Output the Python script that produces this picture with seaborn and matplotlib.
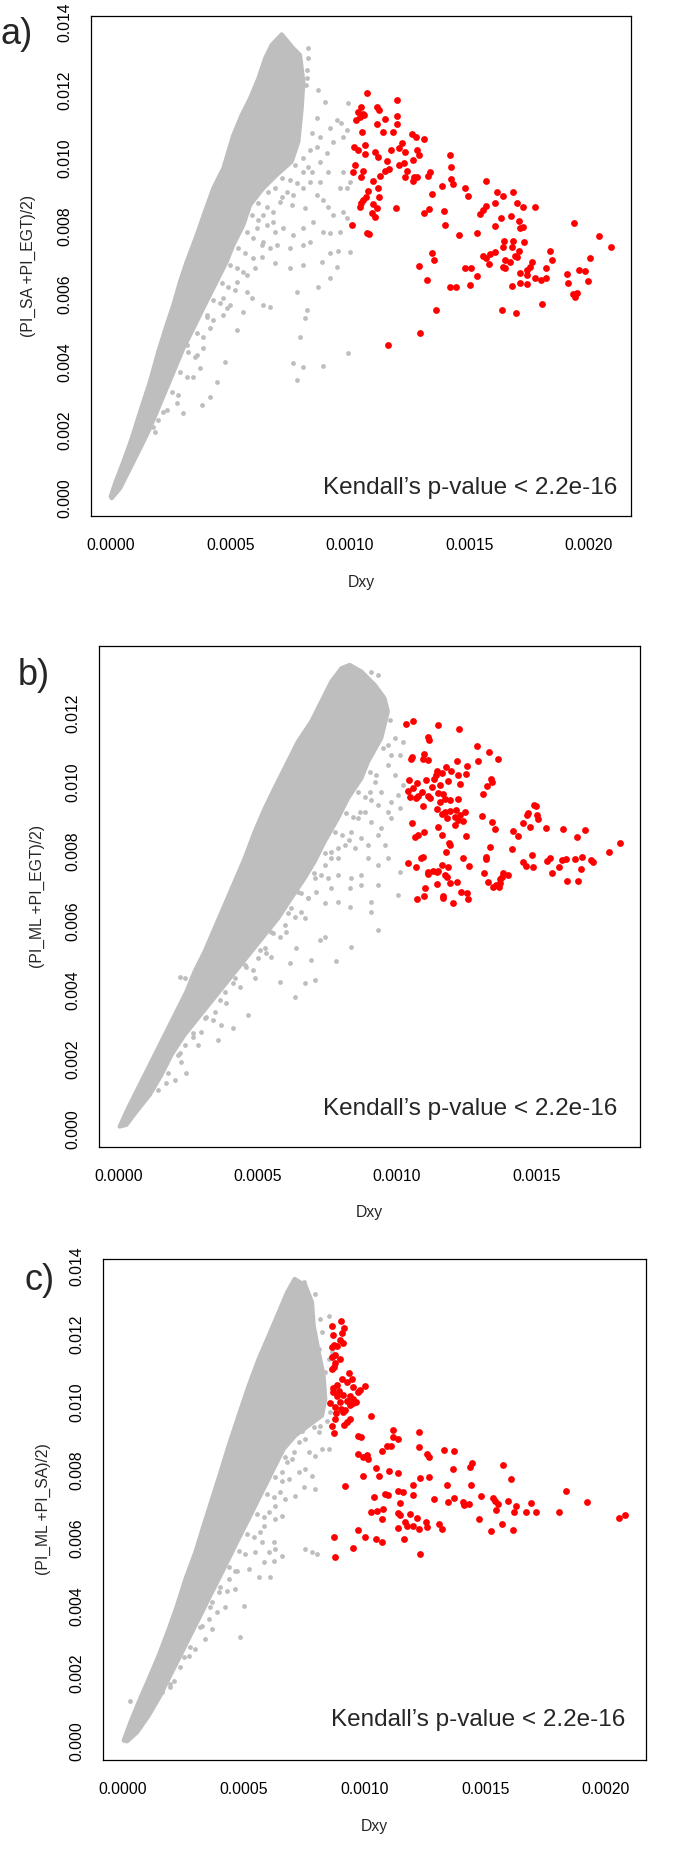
import matplotlib
matplotlib.use("Agg")
import matplotlib.pyplot as plt
import pandas as pd
import seaborn as sns

GRIS = "#BEBEBE"
ROJO = "#FF0000"

# Marcas de los ejes
xticks_ac = [0.0, 0.0005, 0.0010, 0.0015, 0.0020]
xticks_b = [0.0, 0.0005, 0.0010, 0.0015]
yticks_ac = [0.000, 0.002, 0.004, 0.006, 0.008, 0.010, 0.012, 0.014]
yticks_b = [0.000, 0.002, 0.004, 0.006, 0.008, 0.010, 0.012]

etiquetas_y = ["(PI_SA +PI_EGT)/2)", "(PI_ML +PI_EGT)/2)", "(PI_ML +PI_SA)/2)"]
paneles = ["a)", "b)", "c)"]
texto_kendall = "Kendall\u2019s p-value < 2.2e-16"

# ---- panel a: nube gris densa (contorno), puntos grises sueltos, puntos rojos ----
nucleo_a = [
    (0.000e-3, 0.050e-3), (0.018e-3, 0.437e-3), (0.053e-3, 1.075e-3), (0.088e-3, 1.761e-3),
    (0.123e-3, 2.546e-3), (0.164e-3, 3.429e-3), (0.199e-3, 4.312e-3), (0.234e-3, 5.097e-3),
    (0.262e-3, 5.685e-3), (0.290e-3, 6.372e-3), (0.318e-3, 6.961e-3), (0.360e-3, 7.745e-3),
    (0.394e-3, 8.432e-3), (0.429e-3, 9.119e-3), (0.471e-3, 9.707e-3), (0.513e-3, 10.688e-3),
    (0.548e-3, 11.277e-3), (0.583e-3, 11.768e-3), (0.618e-3, 12.356e-3), (0.646e-3, 12.945e-3),
    (0.673e-3, 13.337e-3), (0.715e-3, 13.651e-3), (0.764e-3, 13.239e-3), (0.792e-3, 13.043e-3),
    (0.806e-3, 12.258e-3), (0.799e-3, 11.473e-3), (0.785e-3, 10.492e-3), (0.757e-3, 9.904e-3),
    (0.694e-3, 9.511e-3), (0.638e-3, 9.119e-3), (0.583e-3, 8.628e-3), (0.555e-3, 8.040e-3),
    (0.513e-3, 7.451e-3), (0.485e-3, 6.961e-3), (0.450e-3, 6.470e-3), (0.415e-3, 5.980e-3),
    (0.387e-3, 5.587e-3), (0.346e-3, 4.999e-3), (0.304e-3, 4.410e-3), (0.269e-3, 3.821e-3),
    (0.234e-3, 3.233e-3), (0.199e-3, 2.644e-3), (0.164e-3, 2.056e-3), (0.123e-3, 1.467e-3),
    (0.081e-3, 0.878e-3), (0.039e-3, 0.290e-3), (0.004e-3, 0.000e-3),
]

# puntos grises junto al borde derecho de la nube
franja_a = [
    (0.771e-3, 9.806e-3), (0.806e-3, 9.609e-3), (0.841e-3, 9.609e-3), (0.715e-3, 9.413e-3), (0.750e-3, 9.364e-3),
    (0.778e-3, 9.266e-3), (0.659e-3, 9.021e-3), (0.687e-3, 9.119e-3), (0.715e-3, 8.874e-3), (0.618e-3, 8.677e-3),
    (0.652e-3, 8.579e-3), (0.680e-3, 8.432e-3), (0.590e-3, 8.334e-3), (0.618e-3, 8.187e-3), (0.652e-3, 8.040e-3),
    (0.687e-3, 7.844e-3), (0.569e-3, 7.844e-3), (0.597e-3, 7.647e-3), (0.632e-3, 7.451e-3), (0.666e-3, 7.353e-3),
    (0.534e-3, 7.353e-3), (0.562e-3, 7.206e-3), (0.597e-3, 7.059e-3), (0.499e-3, 6.863e-3), (0.527e-3, 6.764e-3),
    (0.555e-3, 6.666e-3), (0.464e-3, 6.323e-3), (0.492e-3, 6.225e-3), (0.520e-3, 6.127e-3), (0.429e-3, 5.832e-3),
    (0.457e-3, 5.734e-3), (0.485e-3, 5.587e-3), (0.401e-3, 5.342e-3), (0.429e-3, 5.244e-3), (0.360e-3, 4.851e-3),
    (0.387e-3, 4.753e-3), (0.325e-3, 4.312e-3), (0.353e-3, 4.165e-3), (0.290e-3, 3.723e-3), (0.318e-3, 3.576e-3),
    (0.255e-3, 3.135e-3), (0.283e-3, 3.037e-3), (0.220e-3, 2.546e-3), (0.185e-3, 1.958e-3),
]

grises_a = [
    (0.827e-3, 13.239e-3), (0.827e-3, 12.945e-3), (0.820e-3, 12.601e-3), (0.820e-3, 12.356e-3), (0.817e-3, 12.160e-3),
    (0.869e-3, 12.013e-3), (0.896e-3, 11.669e-3), (0.862e-3, 11.179e-3), (0.917e-3, 10.885e-3), (0.945e-3, 11.130e-3),
    (0.962e-3, 11.032e-3), (0.994e-3, 11.620e-3), (0.987e-3, 10.836e-3), (0.841e-3, 10.737e-3), (0.875e-3, 10.639e-3),
    (0.862e-3, 10.345e-3), (0.834e-3, 10.247e-3), (0.903e-3, 10.149e-3), (0.931e-3, 10.492e-3), (0.973e-3, 10.639e-3),
    (0.806e-3, 10.002e-3), (0.827e-3, 9.757e-3), (0.875e-3, 9.904e-3), (0.910e-3, 9.609e-3), (0.973e-3, 9.609e-3),
    (0.987e-3, 9.119e-3), (1.001e-3, 9.315e-3), (0.959e-3, 9.119e-3), (0.875e-3, 9.315e-3), (0.834e-3, 9.315e-3),
    (0.806e-3, 9.119e-3), (0.764e-3, 8.923e-3), (0.736e-3, 9.021e-3), (0.708e-3, 8.726e-3), (0.757e-3, 8.628e-3),
    (0.813e-3, 8.530e-3), (0.862e-3, 8.923e-3), (0.890e-3, 8.776e-3), (0.910e-3, 8.579e-3), (0.931e-3, 8.334e-3),
    (0.973e-3, 8.432e-3), (0.987e-3, 8.236e-3), (0.959e-3, 7.844e-3), (0.917e-3, 7.795e-3), (0.890e-3, 7.844e-3),
    (0.848e-3, 8.138e-3), (0.806e-3, 7.942e-3), (0.764e-3, 7.745e-3), (0.722e-3, 7.942e-3), (0.680e-3, 8.138e-3),
    (0.638e-3, 8.334e-3), (0.611e-3, 7.942e-3), (0.638e-3, 7.549e-3), (0.694e-3, 7.451e-3), (0.750e-3, 7.353e-3),
    (0.806e-3, 7.451e-3), (0.834e-3, 7.549e-3), (0.917e-3, 7.206e-3), (0.952e-3, 7.275e-3), (1.001e-3, 7.235e-3),
    (0.883e-3, 6.961e-3), (0.945e-3, 6.813e-3), (0.917e-3, 6.470e-3), (0.869e-3, 6.225e-3), (0.806e-3, 6.863e-3),
    (0.750e-3, 6.764e-3), (0.687e-3, 6.912e-3), (0.631e-3, 7.108e-3), (0.604e-3, 6.764e-3), (0.569e-3, 6.568e-3),
    (0.527e-3, 6.372e-3), (0.569e-3, 6.078e-3), (0.590e-3, 5.882e-3), (0.638e-3, 5.685e-3), (0.666e-3, 5.636e-3),
    (0.778e-3, 6.078e-3), (0.820e-3, 5.538e-3), (0.813e-3, 5.293e-3), (0.792e-3, 4.753e-3), (0.764e-3, 3.969e-3),
    (0.806e-3, 3.871e-3), (0.890e-3, 3.900e-3), (0.994e-3, 4.263e-3), (0.778e-3, 3.478e-3), (0.555e-3, 5.489e-3),
    (0.527e-3, 4.950e-3), (0.478e-3, 4.018e-3), (0.443e-3, 3.429e-3), (0.415e-3, 2.988e-3), (0.381e-3, 2.742e-3),
    (0.346e-3, 3.576e-3), (0.360e-3, 4.214e-3), (0.318e-3, 4.508e-3), (0.387e-3, 4.410e-3), (0.415e-3, 4.999e-3),
    (0.471e-3, 5.391e-3), (0.499e-3, 5.685e-3), (0.304e-3, 2.497e-3), (0.276e-3, 2.792e-3), (0.234e-3, 2.595e-3),
    (0.199e-3, 2.301e-3), (0.178e-3, 2.105e-3), (0.471e-3, 5.882e-3), (0.401e-3, 5.391e-3), (0.374e-3, 3.821e-3),
]

rojos_a = [
    (1.071e-3, 11.915e-3), (1.199e-3, 11.719e-3), (1.045e-3, 11.523e-3), (1.036e-3, 11.375e-3), (1.054e-3, 11.307e-3),
    (1.026e-3, 11.130e-3), (1.043e-3, 11.228e-3), (1.059e-3, 11.277e-3), (1.112e-3, 11.503e-3), (1.124e-3, 11.424e-3),
    (1.147e-3, 11.150e-3), (1.196e-3, 11.248e-3), (1.199e-3, 11.012e-3), (1.112e-3, 11.012e-3), (1.140e-3, 10.787e-3),
    (1.182e-3, 10.767e-3), (1.050e-3, 10.787e-3), (1.259e-3, 10.718e-3), (1.277e-3, 10.640e-3), (1.310e-3, 10.561e-3),
    (1.217e-3, 10.443e-3), (1.207e-3, 10.316e-3), (1.231e-3, 10.198e-3), (1.171e-3, 10.247e-3), (1.018e-3, 10.345e-3),
    (1.036e-3, 10.247e-3), (1.064e-3, 10.394e-3), (1.064e-3, 10.130e-3), (1.105e-3, 10.198e-3), (1.119e-3, 10.031e-3),
    (1.282e-3, 10.247e-3), (1.291e-3, 10.100e-3), (1.263e-3, 9.953e-3), (1.157e-3, 9.923e-3), (1.165e-3, 9.688e-3),
    (1.147e-3, 9.639e-3), (1.207e-3, 9.816e-3), (1.228e-3, 9.874e-3), (1.022e-3, 9.806e-3), (1.054e-3, 9.629e-3),
    (1.015e-3, 9.610e-3), (1.045e-3, 9.443e-3), (1.126e-3, 9.492e-3), (1.231e-3, 9.443e-3), (1.241e-3, 9.639e-3),
    (1.268e-3, 9.462e-3), (1.282e-3, 9.443e-3), (1.266e-3, 9.345e-3), (1.328e-3, 9.482e-3), (1.335e-3, 9.610e-3),
    (1.419e-3, 10.100e-3), (1.423e-3, 9.737e-3), (1.422e-3, 9.384e-3), (1.433e-3, 9.237e-3), (1.388e-3, 9.188e-3),
    (1.482e-3, 9.139e-3), (1.496e-3, 8.893e-3), (1.572e-3, 9.335e-3), (1.614e-3, 9.021e-3), (1.642e-3, 8.893e-3),
    (1.681e-3, 9.001e-3), (1.607e-3, 8.678e-3), (1.698e-3, 8.697e-3), (1.723e-3, 8.560e-3), (1.774e-3, 8.560e-3),
    (1.096e-3, 9.335e-3), (1.117e-3, 9.139e-3), (1.124e-3, 8.874e-3), (1.078e-3, 9.050e-3), (1.045e-3, 8.678e-3),
    (1.057e-3, 8.776e-3), (1.068e-3, 8.854e-3), (1.043e-3, 8.560e-3), (1.098e-3, 8.658e-3), (1.112e-3, 8.530e-3),
    (1.091e-3, 8.383e-3), (1.105e-3, 8.266e-3), (1.192e-3, 8.550e-3), (1.344e-3, 8.952e-3), (1.333e-3, 8.501e-3),
    (1.310e-3, 8.383e-3), (1.394e-3, 8.452e-3), (1.398e-3, 8.040e-3), (1.458e-3, 7.746e-3), (1.531e-3, 7.814e-3),
    (1.568e-3, 8.599e-3), (1.558e-3, 8.481e-3), (1.547e-3, 8.364e-3), (1.631e-3, 8.236e-3), (1.673e-3, 8.315e-3),
    (1.607e-3, 8.020e-3), (1.709e-3, 8.158e-3), (1.723e-3, 7.991e-3), (1.712e-3, 7.942e-3), (1.940e-3, 8.109e-3),
    (2.041e-3, 7.726e-3), (2.095e-3, 7.383e-3), (1.011e-3, 8.040e-3), (1.073e-3, 7.795e-3), (1.082e-3, 7.775e-3),
    (1.645e-3, 7.569e-3), (1.681e-3, 7.579e-3), (1.729e-3, 7.549e-3), (1.642e-3, 7.383e-3), (1.677e-3, 7.383e-3),
    (1.709e-3, 7.275e-3), (1.691e-3, 7.128e-3), (1.698e-3, 7.108e-3), (1.607e-3, 7.236e-3), (1.586e-3, 7.177e-3),
    (1.558e-3, 7.137e-3), (1.572e-3, 7.059e-3), (1.584e-3, 6.892e-3), (1.649e-3, 7.010e-3), (1.670e-3, 6.961e-3),
    (1.642e-3, 6.814e-3), (1.649e-3, 6.765e-3), (1.837e-3, 7.275e-3), (1.846e-3, 7.010e-3), (2.005e-3, 7.059e-3),
    (1.761e-3, 6.941e-3), (1.754e-3, 6.814e-3), (1.742e-3, 6.716e-3), (1.823e-3, 6.765e-3), (1.712e-3, 6.618e-3),
    (1.740e-3, 6.569e-3), (1.777e-3, 6.470e-3), (1.802e-3, 6.421e-3), (1.823e-3, 6.470e-3), (1.712e-3, 6.343e-3),
    (1.740e-3, 6.294e-3), (1.677e-3, 6.255e-3), (1.907e-3, 6.588e-3), (1.914e-3, 6.323e-3), (1.960e-3, 6.716e-3),
    (1.984e-3, 6.686e-3), (1.998e-3, 6.382e-3), (1.935e-3, 6.009e-3), (1.949e-3, 6.029e-3), (1.942e-3, 5.911e-3),
    (1.805e-3, 5.705e-3), (1.639e-3, 5.538e-3), (1.695e-3, 5.460e-3), (1.482e-3, 6.784e-3), (1.507e-3, 6.765e-3),
    (1.531e-3, 6.539e-3), (1.505e-3, 6.274e-3), (1.419e-3, 6.225e-3), (1.444e-3, 6.206e-3), (1.291e-3, 6.833e-3),
    (1.324e-3, 6.421e-3), (1.344e-3, 7.206e-3), (1.354e-3, 7.010e-3), (1.360e-3, 5.538e-3), (1.294e-3, 4.871e-3),
    (1.161e-3, 4.498e-3),
]

# ---- panel b ----
nucleo_b = [
    (0.004e-3, 0.065e-3), (0.034e-3, 0.594e-3), (0.070e-3, 1.172e-3), (0.112e-3, 1.846e-3),
    (0.154e-3, 2.520e-3), (0.202e-3, 3.289e-3), (0.244e-3, 3.963e-3), (0.273e-3, 4.540e-3),
    (0.309e-3, 5.118e-3), (0.345e-3, 5.792e-3), (0.381e-3, 6.465e-3), (0.417e-3, 7.139e-3),
    (0.453e-3, 7.813e-3), (0.489e-3, 8.583e-3), (0.525e-3, 9.256e-3), (0.560e-3, 9.834e-3),
    (0.596e-3, 10.411e-3), (0.644e-3, 11.181e-3), (0.692e-3, 11.759e-3), (0.740e-3, 12.528e-3),
    (0.764e-3, 12.913e-3), (0.800e-3, 13.298e-3), (0.830e-3, 13.395e-3), (0.872e-3, 13.202e-3),
    (0.920e-3, 12.817e-3), (0.955e-3, 12.432e-3), (0.967e-3, 12.047e-3), (0.943e-3, 11.277e-3),
    (0.896e-3, 10.604e-3), (0.872e-3, 10.122e-3), (0.824e-3, 9.545e-3), (0.788e-3, 8.968e-3),
    (0.740e-3, 8.294e-3), (0.704e-3, 7.716e-3), (0.668e-3, 7.235e-3), (0.620e-3, 6.658e-3),
    (0.573e-3, 6.080e-3), (0.525e-3, 5.599e-3), (0.477e-3, 5.118e-3), (0.429e-3, 4.637e-3),
    (0.381e-3, 4.155e-3), (0.333e-3, 3.674e-3), (0.285e-3, 3.193e-3), (0.237e-3, 2.712e-3),
    (0.190e-3, 2.134e-3), (0.154e-3, 1.557e-3), (0.112e-3, 0.980e-3), (0.064e-3, 0.498e-3),
    (0.028e-3, 0.113e-3),
]

franja_b = [
    (0.949e-3, 10.989e-3), (0.967e-3, 11.085e-3), (0.902e-3, 10.315e-3), (0.925e-3, 10.219e-3), (0.860e-3, 9.737e-3),
    (0.884e-3, 9.593e-3), (0.908e-3, 9.497e-3), (0.818e-3, 9.112e-3), (0.842e-3, 9.016e-3), (0.866e-3, 9.160e-3),
    (0.778e-3, 8.583e-3), (0.802e-3, 8.486e-3), (0.826e-3, 8.342e-3), (0.740e-3, 7.957e-3), (0.764e-3, 7.813e-3),
    (0.788e-3, 8.101e-3), (0.702e-3, 7.380e-3), (0.726e-3, 7.331e-3), (0.752e-3, 7.235e-3), (0.656e-3, 6.802e-3),
    (0.680e-3, 6.658e-3), (0.710e-3, 6.850e-3), (0.608e-3, 6.225e-3), (0.632e-3, 6.128e-3), (0.656e-3, 6.273e-3),
    (0.555e-3, 5.647e-3), (0.579e-3, 5.551e-3), (0.602e-3, 5.695e-3), (0.507e-3, 5.166e-3), (0.531e-3, 5.070e-3),
    (0.459e-3, 4.685e-3), (0.483e-3, 4.589e-3), (0.411e-3, 4.204e-3), (0.435e-3, 4.107e-3), (0.363e-3, 3.722e-3),
    (0.387e-3, 3.626e-3), (0.315e-3, 3.241e-3), (0.339e-3, 3.145e-3), (0.267e-3, 2.760e-3), (0.220e-3, 2.183e-3),
    (0.178e-3, 1.605e-3),
]

grises_b = [
    (0.908e-3, 13.202e-3), (0.931e-3, 13.106e-3), (0.973e-3, 11.807e-3), (0.991e-3, 11.277e-3), (1.021e-3, 11.181e-3),
    (1.009e-3, 10.796e-3), (0.979e-3, 10.796e-3), (0.967e-3, 10.507e-3), (0.991e-3, 10.219e-3), (1.021e-3, 9.930e-3),
    (1.003e-3, 9.641e-3), (0.979e-3, 9.449e-3), (0.944e-3, 9.737e-3), (0.919e-3, 10.026e-3), (0.902e-3, 9.737e-3),
    (0.931e-3, 9.352e-3), (0.967e-3, 9.160e-3), (1.009e-3, 9.256e-3), (0.979e-3, 8.967e-3), (0.944e-3, 8.679e-3),
    (0.908e-3, 8.871e-3), (0.884e-3, 9.160e-3), (0.860e-3, 8.967e-3), (0.836e-3, 8.583e-3), (0.872e-3, 8.390e-3),
    (0.896e-3, 8.198e-3), (0.931e-3, 8.486e-3), (0.955e-3, 8.198e-3), (0.848e-3, 8.101e-3), (0.812e-3, 8.198e-3),
    (0.788e-3, 7.813e-3), (0.764e-3, 8.005e-3), (0.740e-3, 7.620e-3), (0.788e-3, 7.331e-3), (0.836e-3, 7.235e-3),
    (0.872e-3, 7.331e-3), (0.896e-3, 7.813e-3), (0.931e-3, 7.620e-3), (0.967e-3, 7.813e-3), (1.009e-3, 7.428e-3),
    (1.003e-3, 6.754e-3), (0.931e-3, 7.043e-3), (0.908e-3, 6.561e-3), (0.872e-3, 7.043e-3), (0.830e-3, 6.947e-3),
    (0.788e-3, 6.561e-3), (0.764e-3, 6.947e-3), (0.704e-3, 7.235e-3), (0.680e-3, 6.658e-3), (0.644e-3, 6.850e-3),
    (0.620e-3, 6.369e-3), (0.668e-3, 6.080e-3), (0.596e-3, 5.888e-3), (0.573e-3, 6.273e-3), (0.549e-3, 5.695e-3),
    (0.525e-3, 5.214e-3), (0.501e-3, 4.926e-3), (0.549e-3, 4.974e-3), (0.614e-3, 4.781e-3), (0.638e-3, 5.214e-3),
    (0.692e-3, 4.877e-3), (0.722e-3, 5.455e-3), (0.740e-3, 5.551e-3), (0.780e-3, 4.849e-3), (0.836e-3, 5.262e-3),
    (0.931e-3, 5.743e-3), (0.908e-3, 6.273e-3), (0.830e-3, 6.417e-3), (0.740e-3, 6.513e-3), (0.704e-3, 4.300e-3),
    (0.668e-3, 4.204e-3), (0.632e-3, 3.819e-3), (0.578e-3, 4.252e-3), (0.465e-3, 3.289e-3), (0.411e-3, 2.905e-3),
    (0.369e-3, 3.001e-3), (0.345e-3, 3.386e-3), (0.309e-3, 3.193e-3), (0.285e-3, 2.423e-3), (0.357e-3, 2.568e-3),
    (0.297e-3, 2.808e-3), (0.267e-3, 2.664e-3), (0.237e-3, 2.423e-3), (0.214e-3, 2.135e-3), (0.226e-3, 1.942e-3),
    (0.244e-3, 1.605e-3), (0.202e-3, 1.413e-3), (0.172e-3, 1.317e-3), (0.142e-3, 1.124e-3), (0.339e-3, 3.867e-3),
    (0.381e-3, 3.963e-3), (0.417e-3, 4.348e-3), (0.453e-3, 4.733e-3), (0.489e-3, 4.348e-3), (0.477e-3, 5.503e-3),
    (0.429e-3, 5.310e-3), (0.220e-3, 4.396e-3), (0.237e-3, 4.348e-3),
]

rojos_b = [
    (1.031e-3, 11.691e-3), (1.058e-3, 11.777e-3), (1.148e-3, 11.671e-3), (1.223e-3, 11.546e-3), (1.112e-3, 11.325e-3),
    (1.116e-3, 11.229e-3), (1.288e-3, 11.065e-3), (1.331e-3, 10.882e-3), (1.363e-3, 10.680e-3), (1.289e-3, 10.622e-3),
    (1.052e-3, 10.728e-3), (1.050e-3, 10.670e-3), (1.098e-3, 10.815e-3), (1.094e-3, 10.670e-3), (1.110e-3, 10.651e-3),
    (1.214e-3, 10.632e-3), (1.250e-3, 10.488e-3), (1.246e-3, 10.247e-3), (1.142e-3, 10.343e-3), (1.174e-3, 10.439e-3),
    (1.193e-3, 10.334e-3), (1.160e-3, 10.266e-3), (1.138e-3, 10.218e-3), (1.184e-3, 10.045e-3), (1.220e-3, 10.218e-3),
    (1.226e-3, 9.958e-3), (1.337e-3, 10.093e-3), (1.342e-3, 10.016e-3), (1.322e-3, 9.910e-3), (1.307e-3, 9.670e-3),
    (1.043e-3, 10.074e-3), (1.070e-3, 9.997e-3), (1.058e-3, 9.833e-3), (1.103e-3, 10.074e-3), (1.134e-3, 10.093e-3),
    (1.154e-3, 9.929e-3), (1.127e-3, 9.881e-3), (1.112e-3, 9.612e-3), (1.118e-3, 9.544e-3), (1.038e-3, 9.756e-3),
    (1.046e-3, 9.592e-3), (1.067e-3, 9.544e-3), (1.076e-3, 9.612e-3), (1.091e-3, 9.737e-3), (1.092e-3, 9.323e-3),
    (1.148e-3, 9.689e-3), (1.166e-3, 9.670e-3), (1.154e-3, 9.448e-3), (1.172e-3, 9.516e-3), (1.190e-3, 9.496e-3),
    (1.217e-3, 9.516e-3), (1.210e-3, 9.208e-3), (1.190e-3, 9.188e-3), (1.172e-3, 9.159e-3), (1.142e-3, 9.227e-3),
    (1.160e-3, 9.092e-3), (1.178e-3, 8.967e-3), (1.208e-3, 9.015e-3), (1.226e-3, 9.063e-3), (1.244e-3, 9.140e-3),
    (1.220e-3, 8.919e-3), (1.238e-3, 8.900e-3), (1.208e-3, 8.774e-3), (1.055e-3, 8.823e-3), (1.074e-3, 8.486e-3),
    (1.064e-3, 8.438e-3), (1.098e-3, 8.563e-3), (1.148e-3, 8.707e-3), (1.162e-3, 8.486e-3), (1.186e-3, 8.264e-3),
    (1.190e-3, 8.197e-3), (1.174e-3, 8.005e-3), (1.249e-3, 8.466e-3), (1.304e-3, 9.034e-3), (1.339e-3, 8.871e-3),
    (1.351e-3, 8.649e-3), (1.416e-3, 8.611e-3), (1.433e-3, 8.457e-3), (1.451e-3, 8.823e-3), (1.465e-3, 9.063e-3),
    (1.471e-3, 9.131e-3), (1.476e-3, 8.707e-3), (1.493e-3, 9.352e-3), (1.497e-3, 9.333e-3), (1.503e-3, 9.063e-3),
    (1.507e-3, 8.948e-3), (1.535e-3, 8.678e-3), (1.597e-3, 8.649e-3), (1.645e-3, 8.438e-3), (1.674e-3, 8.630e-3),
    (1.762e-3, 7.985e-3), (1.800e-3, 8.245e-3), (1.414e-3, 8.082e-3), (1.334e-3, 8.130e-3), (1.038e-3, 7.668e-3),
    (1.067e-3, 7.552e-3), (1.086e-3, 7.831e-3), (1.092e-3, 7.850e-3), (1.112e-3, 7.427e-3), (1.112e-3, 7.360e-3),
    (1.130e-3, 7.456e-3), (1.142e-3, 7.427e-3), (1.160e-3, 7.620e-3), (1.184e-3, 7.552e-3), (1.172e-3, 7.331e-3),
    (1.178e-3, 7.263e-3), (1.148e-3, 7.456e-3), (1.238e-3, 7.812e-3), (1.258e-3, 7.600e-3), (1.318e-3, 7.860e-3),
    (1.318e-3, 7.783e-3), (1.311e-3, 7.379e-3), (1.325e-3, 7.138e-3), (1.343e-3, 6.994e-3), (1.355e-3, 7.042e-3),
    (1.371e-3, 7.110e-3), (1.375e-3, 7.283e-3), (1.381e-3, 7.398e-3), (1.397e-3, 7.331e-3), (1.369e-3, 7.206e-3),
    (1.366e-3, 6.994e-3), (1.453e-3, 7.697e-3), (1.462e-3, 7.600e-3), (1.485e-3, 7.908e-3), (1.489e-3, 7.571e-3),
    (1.537e-3, 7.735e-3), (1.549e-3, 7.812e-3), (1.555e-3, 7.398e-3), (1.581e-3, 7.571e-3), (1.591e-3, 7.764e-3),
    (1.605e-3, 7.793e-3), (1.639e-3, 7.783e-3), (1.663e-3, 7.860e-3), (1.660e-3, 7.504e-3), (1.696e-3, 7.764e-3),
    (1.704e-3, 7.697e-3), (1.611e-3, 7.158e-3), (1.648e-3, 7.167e-3), (1.142e-3, 7.071e-3), (1.190e-3, 7.110e-3),
    (1.214e-3, 7.138e-3), (1.100e-3, 6.946e-3), (1.098e-3, 6.734e-3), (1.070e-3, 6.628e-3), (1.166e-3, 6.724e-3),
    (1.166e-3, 6.657e-3), (1.202e-3, 6.532e-3), (1.229e-3, 6.850e-3), (1.250e-3, 6.802e-3), (1.256e-3, 6.628e-3),
]

# ---- panel c ----
nucleo_c = [
    (0.003e-3, 0.022e-3), (0.031e-3, 0.562e-3), (0.065e-3, 1.152e-3), (0.107e-3, 1.840e-3),
    (0.148e-3, 2.528e-3), (0.190e-3, 3.314e-3), (0.224e-3, 4.002e-3), (0.259e-3, 4.788e-3),
    (0.300e-3, 5.574e-3), (0.334e-3, 6.360e-3), (0.369e-3, 7.147e-3), (0.404e-3, 7.933e-3),
    (0.438e-3, 8.719e-3), (0.479e-3, 9.603e-3), (0.521e-3, 10.488e-3), (0.562e-3, 11.271e-3),
    (0.604e-3, 11.962e-3), (0.645e-3, 12.650e-3), (0.680e-3, 13.239e-3), (0.711e-3, 13.632e-3),
    (0.756e-3, 13.436e-3), (0.783e-3, 12.945e-3), (0.790e-3, 12.257e-3), (0.811e-3, 11.470e-3),
    (0.831e-3, 10.783e-3), (0.838e-3, 10.095e-3), (0.825e-3, 9.603e-3), (0.769e-3, 9.309e-3),
    (0.714e-3, 9.014e-3), (0.666e-3, 8.621e-3), (0.631e-3, 8.129e-3), (0.597e-3, 7.638e-3),
    (0.562e-3, 7.147e-3), (0.521e-3, 6.557e-3), (0.479e-3, 5.967e-3), (0.445e-3, 5.476e-3),
    (0.404e-3, 4.886e-3), (0.362e-3, 4.297e-3), (0.321e-3, 3.707e-3), (0.279e-3, 3.117e-3),
    (0.238e-3, 2.528e-3), (0.196e-3, 1.938e-3), (0.155e-3, 1.349e-3), (0.107e-3, 0.759e-3),
    (0.059e-3, 0.268e-3), (0.017e-3, 0.000e-3),
]

franja_c = [
    (0.790e-3, 9.259e-3), (0.818e-3, 9.309e-3), (0.673e-3, 8.375e-3), (0.700e-3, 8.326e-3), (0.631e-3, 7.785e-3),
    (0.659e-3, 7.687e-3), (0.597e-3, 7.294e-3), (0.624e-3, 7.196e-3), (0.652e-3, 7.343e-3), (0.555e-3, 6.704e-3),
    (0.583e-3, 6.606e-3), (0.514e-3, 6.115e-3), (0.542e-3, 6.017e-3), (0.569e-3, 6.164e-3), (0.479e-3, 5.623e-3),
    (0.507e-3, 5.525e-3), (0.438e-3, 5.132e-3), (0.466e-3, 5.034e-3), (0.404e-3, 4.543e-3), (0.431e-3, 4.444e-3),
    (0.362e-3, 3.953e-3), (0.321e-3, 3.363e-3), (0.279e-3, 2.774e-3), (0.238e-3, 2.184e-3), (0.196e-3, 1.594e-3),
]

grises_c = [
    (0.714e-3, 13.534e-3), (0.749e-3, 13.534e-3), (0.797e-3, 13.190e-3), (0.818e-3, 12.453e-3), (0.852e-3, 12.551e-3),
    (0.825e-3, 12.060e-3), (0.811e-3, 11.569e-3), (0.852e-3, 11.274e-3), (0.838e-3, 10.881e-3), (0.866e-3, 11.470e-3),
    (0.859e-3, 9.702e-3), (0.845e-3, 9.456e-3), (0.811e-3, 9.112e-3), (0.776e-3, 9.407e-3), (0.742e-3, 9.161e-3),
    (0.755e-3, 8.915e-3), (0.728e-3, 8.817e-3), (0.707e-3, 8.522e-3), (0.769e-3, 8.522e-3), (0.797e-3, 8.424e-3),
    (0.825e-3, 8.621e-3), (0.852e-3, 8.621e-3), (0.680e-3, 8.228e-3), (0.659e-3, 7.933e-3), (0.686e-3, 7.736e-3),
    (0.728e-3, 7.933e-3), (0.755e-3, 8.031e-3), (0.783e-3, 7.835e-3), (0.749e-3, 7.490e-3), (0.797e-3, 7.441e-3),
    (0.714e-3, 7.245e-3), (0.673e-3, 7.147e-3), (0.631e-3, 6.950e-3), (0.604e-3, 6.754e-3), (0.659e-3, 6.655e-3),
    (0.631e-3, 6.557e-3), (0.583e-3, 6.360e-3), (0.576e-3, 5.869e-3), (0.624e-3, 5.869e-3), (0.548e-3, 5.574e-3),
    (0.604e-3, 5.574e-3), (0.631e-3, 5.673e-3), (0.659e-3, 5.476e-3), (0.583e-3, 5.279e-3), (0.624e-3, 5.329e-3),
    (0.755e-3, 5.673e-3), (0.783e-3, 5.574e-3), (0.804e-3, 5.525e-3), (0.562e-3, 4.837e-3), (0.611e-3, 4.837e-3),
    (0.521e-3, 5.083e-3), (0.473e-3, 5.034e-3), (0.438e-3, 4.788e-3), (0.466e-3, 4.493e-3), (0.397e-3, 4.395e-3),
    (0.369e-3, 4.100e-3), (0.390e-3, 3.805e-3), (0.424e-3, 3.953e-3), (0.500e-3, 4.002e-3), (0.486e-3, 3.068e-3),
    (0.355e-3, 3.609e-3), (0.328e-3, 3.413e-3), (0.369e-3, 3.314e-3), (0.341e-3, 3.019e-3), (0.300e-3, 2.724e-3),
    (0.272e-3, 2.528e-3), (0.252e-3, 2.479e-3), (0.210e-3, 1.791e-3), (0.196e-3, 1.693e-3), (0.162e-3, 1.447e-3),
    (0.134e-3, 1.250e-3), (0.031e-3, 1.201e-3), (0.107e-3, 1.054e-3), (0.045e-3, 0.366e-3),
]

rojos_c = [
    (0.902e-3, 12.394e-3), (0.864e-3, 12.246e-3), (0.915e-3, 12.177e-3), (0.906e-3, 12.030e-3), (0.869e-3, 11.981e-3),
    (0.899e-3, 11.833e-3), (0.913e-3, 11.755e-3), (0.874e-3, 11.686e-3), (0.864e-3, 11.637e-3), (0.885e-3, 11.657e-3),
    (0.878e-3, 11.391e-3), (0.864e-3, 11.342e-3), (0.899e-3, 11.263e-3), (0.878e-3, 11.165e-3), (0.864e-3, 10.969e-3),
    (0.874e-3, 11.047e-3), (0.938e-3, 10.851e-3), (0.906e-3, 10.674e-3), (0.947e-3, 10.674e-3), (0.927e-3, 10.605e-3),
    (0.885e-3, 10.507e-3), (0.871e-3, 10.409e-3), (0.896e-3, 10.340e-3), (0.869e-3, 10.310e-3), (0.954e-3, 10.458e-3),
    (0.975e-3, 10.310e-3), (1.002e-3, 10.477e-3), (0.982e-3, 10.359e-3), (0.888e-3, 10.182e-3), (0.913e-3, 10.212e-3),
    (0.940e-3, 10.182e-3), (0.951e-3, 10.084e-3), (0.927e-3, 10.045e-3), (0.965e-3, 10.015e-3), (0.899e-3, 10.015e-3),
    (0.858e-3, 9.986e-3), (0.878e-3, 9.848e-3), (0.902e-3, 9.789e-3), (0.920e-3, 9.770e-3), (0.940e-3, 9.917e-3),
    (0.951e-3, 9.966e-3), (0.882e-3, 9.691e-3), (0.913e-3, 9.721e-3), (0.878e-3, 9.495e-3), (0.940e-3, 9.495e-3),
    (0.927e-3, 9.426e-3), (0.915e-3, 9.327e-3), (0.864e-3, 9.298e-3), (0.874e-3, 9.101e-3), (1.027e-3, 9.593e-3),
    (1.117e-3, 9.180e-3), (1.226e-3, 9.131e-3), (1.120e-3, 8.984e-3), (1.140e-3, 8.905e-3), (1.109e-3, 8.708e-3),
    (1.092e-3, 8.708e-3), (1.071e-3, 8.571e-3), (0.975e-3, 9.003e-3), (0.985e-3, 8.984e-3), (1.227e-3, 8.669e-3),
    (1.261e-3, 8.473e-3), (1.269e-3, 8.374e-3), (1.330e-3, 8.591e-3), (1.371e-3, 8.561e-3), (0.975e-3, 8.473e-3),
    (1.009e-3, 8.443e-3), (0.996e-3, 8.394e-3), (1.016e-3, 8.315e-3), (1.444e-3, 8.217e-3), (1.437e-3, 8.099e-3),
    (1.575e-3, 8.148e-3), (1.368e-3, 8.020e-3), (1.048e-3, 8.050e-3), (1.103e-3, 7.981e-3), (1.138e-3, 7.922e-3),
    (0.996e-3, 7.824e-3), (1.062e-3, 7.824e-3), (1.230e-3, 7.755e-3), (1.269e-3, 7.804e-3), (1.606e-3, 7.726e-3),
    (0.920e-3, 7.529e-3), (1.200e-3, 7.559e-3), (1.343e-3, 7.559e-3), (1.440e-3, 7.559e-3), (1.140e-3, 7.392e-3),
    (1.161e-3, 7.362e-3), (1.203e-3, 7.264e-3), (1.085e-3, 7.284e-3), (1.099e-3, 7.264e-3), (1.040e-3, 7.195e-3),
    (1.288e-3, 7.136e-3), (1.348e-3, 7.067e-3), (1.372e-3, 7.185e-3), (1.481e-3, 7.234e-3), (1.534e-3, 7.166e-3),
    (1.541e-3, 7.097e-3), (1.555e-3, 6.999e-3), (1.593e-3, 7.087e-3), (1.628e-3, 6.940e-3), (1.691e-3, 7.018e-3),
    (1.833e-3, 7.382e-3), (1.923e-3, 7.048e-3), (1.407e-3, 7.067e-3), (1.412e-3, 6.969e-3), (1.434e-3, 6.989e-3),
    (1.147e-3, 7.018e-3), (1.545e-3, 6.822e-3), (1.619e-3, 6.772e-3), (1.669e-3, 6.772e-3), (1.711e-3, 6.772e-3),
    (1.807e-3, 6.753e-3), (1.026e-3, 6.772e-3), (1.051e-3, 6.802e-3), (1.076e-3, 6.841e-3), (1.071e-3, 6.547e-3),
    (1.147e-3, 6.674e-3), (1.140e-3, 6.743e-3), (1.189e-3, 6.704e-3), (1.219e-3, 6.596e-3), (1.168e-3, 6.478e-3),
    (1.178e-3, 6.350e-3), (1.203e-3, 6.350e-3), (1.255e-3, 6.478e-3), (1.261e-3, 6.311e-3), (1.227e-3, 6.252e-3),
    (1.310e-3, 6.409e-3), (1.320e-3, 6.252e-3), (1.140e-3, 6.282e-3), (1.474e-3, 6.547e-3), (1.568e-3, 6.409e-3),
    (1.523e-3, 6.212e-3), (1.614e-3, 6.232e-3), (2.054e-3, 6.576e-3), (2.079e-3, 6.674e-3), (0.975e-3, 6.232e-3),
    (1.002e-3, 6.016e-3), (1.048e-3, 5.967e-3), (1.074e-3, 5.888e-3), (1.164e-3, 5.967e-3), (0.875e-3, 6.036e-3),
    (0.954e-3, 5.692e-3), (0.880e-3, 5.446e-3), (1.230e-3, 5.515e-3),
]


def a_tabla(puntos):
    return pd.DataFrame(puntos, columns=["Dxy", "PI"])


# Dibujar un panel completo
def graficar_panel(ax, nucleo, franja, grises, rojos, xlim, ylim, xticks, yticks,
                   ylabel, pos_kendall, pos_ylabel):
    nx = [p[0] for p in nucleo]
    ny = [p[1] for p in nucleo]
    ax.fill(nx, ny, color=GRIS, ec=GRIS, lw=3, joinstyle="round", zorder=1)
    sns.scatterplot(data=a_tabla(franja + grises), x="Dxy", y="PI", color=GRIS, s=12,
                    linewidth=0, legend=False, ax=ax, zorder=2)
    sns.scatterplot(data=a_tabla(rojos), x="Dxy", y="PI", color=ROJO, s=24,
                    linewidth=0, legend=False, ax=ax, zorder=3)

    ax.set_xlim(xlim)
    ax.set_ylim(ylim)
    ax.set_xticks(xticks)
    ax.set_xticklabels([f"{v:.4f}" for v in xticks])
    ax.set_yticks(yticks)
    ax.set_yticklabels([f"{v:.3f}" for v in yticks], rotation=90, va="center")
    ax.tick_params(direction="out", length=7, width=0.8, labelsize=11.3,
                   color="black", labelcolor="black")
    ax.tick_params(axis="x", pad=9)
    ax.tick_params(axis="y", pad=6)

    ax.set_xlabel("Dxy", fontsize=11.3)
    ax.set_ylabel(ylabel, fontsize=11.3)
    ax.xaxis.set_label_coords(0.5, -0.117)
    ax.yaxis.set_label_coords(pos_ylabel, 0.5)

    for sp in ax.spines.values():
        sp.set_visible(True)
        sp.set_color("black")
        sp.set_linewidth(0.9)

    ax.text(pos_kendall[0], pos_kendall[1], texto_kendall, transform=ax.transAxes,
            ha="right", va="baseline", fontsize=17.5)


def main():
    sns.set_style("white")
    plt.rcParams["font.family"] = ["Liberation Sans", "DejaVu Sans"]

    fig = plt.figure(figsize=(6.86, 18.59), dpi=100)

    ax_a = fig.add_axes([0.1321, 0.7224, 0.7882, 0.2691])
    graficar_panel(ax_a, nucleo_a, franja_a, grises_a, rojos_a,
                   (-0.0000841, 0.002178), (-0.000524, 0.014196),
                   xticks_ac, yticks_ac, etiquetas_y[0], (0.9735, 0.0434), -0.1012)

    ax_b = fig.add_axes([0.1442, 0.3832, 0.7887, 0.2695])
    graficar_panel(ax_b, nucleo_b, franja_b, grises_b, rojos_b,
                   (-0.0000704, 0.001872), (-0.000514, 0.013951),
                   xticks_b, yticks_b, etiquetas_y[1], (0.9575, 0.063), -0.1004)

    ax_c = fig.add_axes([0.1499, 0.0533, 0.7914, 0.2695])
    graficar_panel(ax_c, nucleo_c, franja_c, grises_c, rojos_c,
                   (-0.0000832, 0.002165), (-0.000548, 0.014222),
                   xticks_ac, yticks_ac, etiquetas_y[2], (0.9628, 0.067), -0.0949)

    # Letras de los paneles
    fig.text(0.0, 0.9764, paneles[0], fontsize=26, ha="left", va="baseline")
    fig.text(0.0262, 0.6313, paneles[1], fontsize=26, ha="left", va="baseline")
    fig.text(0.0364, 0.3062, paneles[2], fontsize=26, ha="left", va="baseline")

    fig.savefig("out.png", dpi=100)


if __name__ == "__main__":
    main()
